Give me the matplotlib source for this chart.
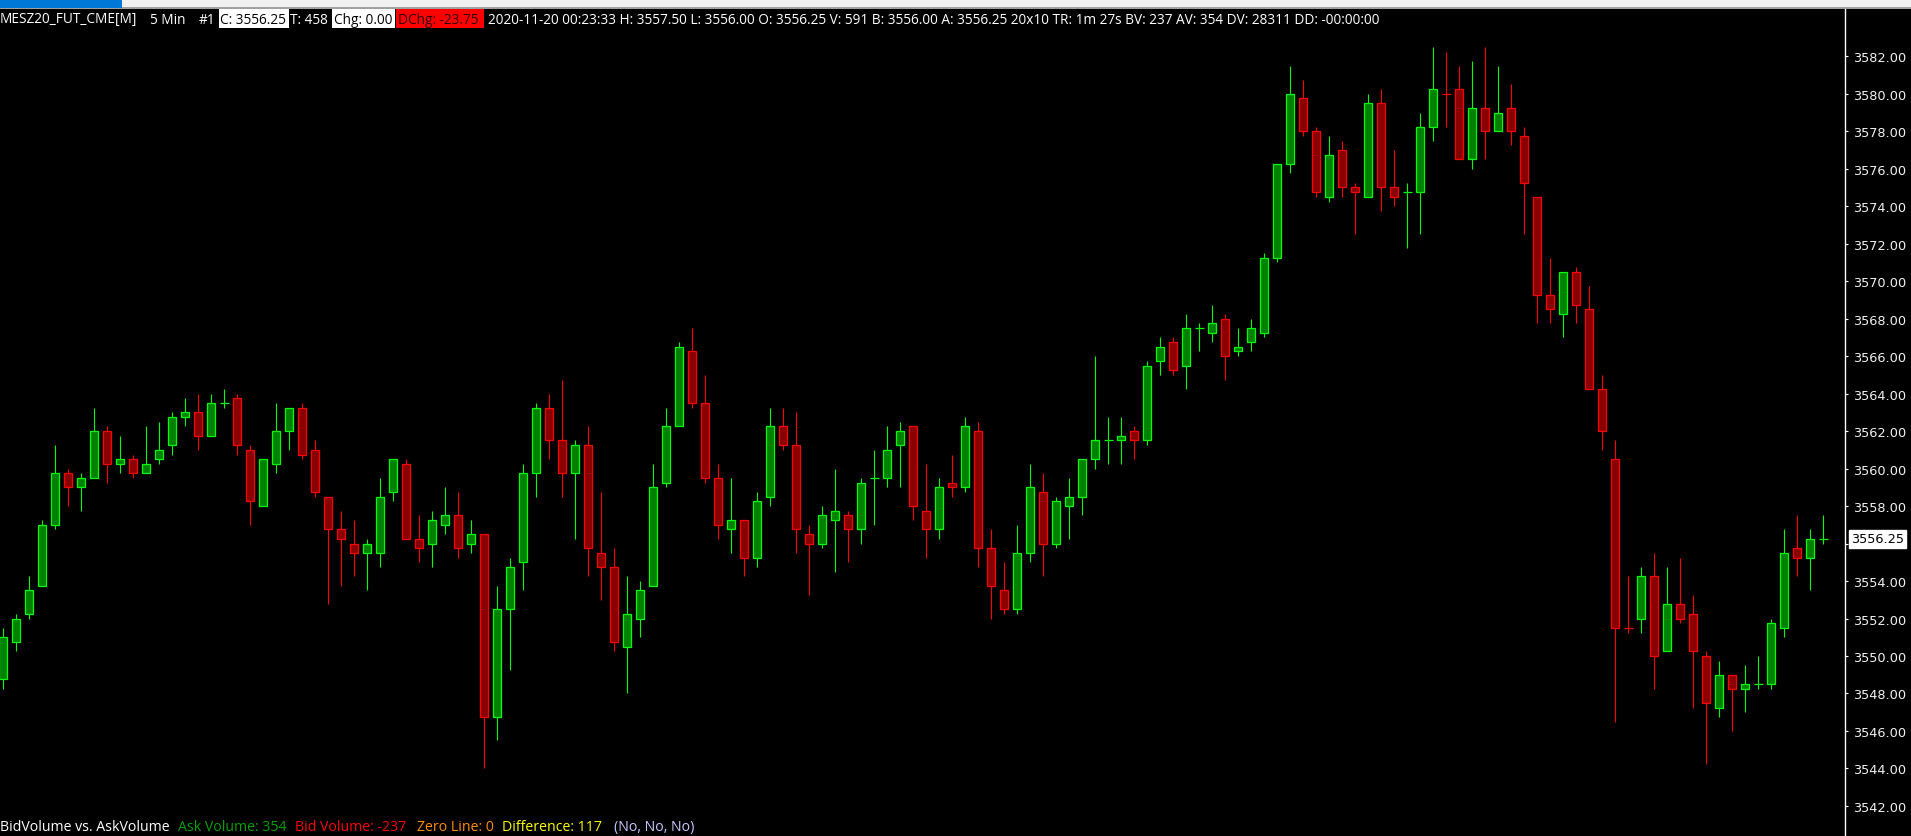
import numpy as np
import matplotlib
matplotlib.use("Agg")
import matplotlib.pyplot as plt
from matplotlib.patches import Rectangle
from matplotlib import transforms

# 5 min bars MESZ20 (open, high, low, close)
opens = [3548.75, 3550.75, 3552.25, 3553.75, 3557.0, 3559.75, 3559.0, 3559.5, 3562.0, 3560.25,
         3560.5, 3559.75, 3560.5, 3561.25, 3562.75, 3563.0, 3561.75, 3563.5, 3563.75, 3561.0,
         3558.0, 3560.25, 3562.0, 3563.25, 3561.0, 3558.5, 3556.75, 3556.0, 3555.5, 3555.5,
         3558.75, 3560.25, 3556.25, 3556.0, 3557.0, 3557.5, 3556.0, 3556.5, 3546.75, 3552.5,
         3555.0, 3559.75, 3563.25, 3561.5, 3559.75, 3561.25, 3555.5, 3554.75, 3550.5, 3552.0,
         3553.75, 3559.25, 3562.25, 3566.25, 3563.5, 3559.5, 3556.75, 3557.25, 3555.25, 3558.5,
         3562.25, 3561.25, 3556.5, 3556.0, 3557.25, 3557.5, 3556.75, 3559.5, 3559.5, 3561.25,
         3562.25, 3557.75, 3556.75, 3559.25, 3559.0, 3562.0, 3555.75, 3553.5, 3552.5, 3555.5,
         3558.75, 3556.0, 3558.0, 3558.5, 3560.5, 3561.5, 3561.5, 3562.0, 3561.5, 3565.75,
         3566.75, 3565.5, 3567.5, 3567.25, 3568.0, 3566.25, 3566.75, 3567.25, 3571.25, 3576.25,
         3579.75, 3578.0, 3574.5, 3577.0, 3575.0, 3574.5, 3579.5, 3575.0, 3574.75, 3574.75,
         3578.25, 3580.0, 3580.25, 3576.5, 3579.25, 3578.0, 3579.25, 3577.75, 3574.5, 3569.25,
         3568.25, 3570.5, 3568.5, 3564.25, 3560.5, 3551.5, 3552.0, 3554.25, 3550.25, 3552.75,
         3552.25, 3550.0, 3547.25, 3549.0, 3548.25, 3548.5, 3548.5, 3551.5, 3555.75, 3555.25,
         3556.25]
highs = [3551.5, 3552.25, 3554.25, 3557.25, 3561.25, 3560.0, 3559.75, 3563.25, 3562.25, 3561.75,
         3560.75, 3562.25, 3562.5, 3563.0, 3563.75, 3564.0, 3564.0, 3564.25, 3564.0, 3561.25,
         3560.5, 3563.5, 3563.25, 3563.5, 3561.5, 3558.5, 3557.75, 3557.25, 3556.25, 3559.5,
         3560.5, 3560.5, 3557.5, 3557.75, 3559.0, 3558.75, 3557.25, 3556.5, 3553.75, 3555.25,
         3560.25, 3563.5, 3564.0, 3564.75, 3561.5, 3562.25, 3558.75, 3555.75, 3554.25, 3554.0,
         3560.25, 3563.25, 3566.75, 3567.5, 3565.0, 3560.25, 3559.5, 3557.25, 3558.75, 3563.25,
         3563.25, 3563.0, 3557.0, 3558.0, 3560.0, 3557.75, 3559.5, 3561.0, 3562.25, 3562.5,
         3562.25, 3560.25, 3559.5, 3560.75, 3562.75, 3562.5, 3556.75, 3555.0, 3557.0, 3560.25,
         3559.75, 3558.5, 3559.5, 3560.5, 3566.0, 3562.75, 3562.75, 3562.25, 3565.75, 3567.0,
         3567.0, 3568.25, 3567.75, 3568.75, 3568.25, 3567.5, 3568.0, 3571.5, 3576.25, 3581.5,
         3580.75, 3578.25, 3577.75, 3577.5, 3575.25, 3580.0, 3580.25, 3577.0, 3575.25, 3579.0,
         3582.5, 3582.25, 3581.5, 3581.75, 3582.5, 3581.5, 3580.5, 3578.25, 3574.5, 3571.25,
         3570.5, 3570.75, 3569.75, 3565.0, 3561.5, 3554.25, 3554.75, 3555.5, 3554.75, 3555.25,
         3553.25, 3550.25, 3549.75, 3549.0, 3549.5, 3550.0, 3552.0, 3556.75, 3557.5, 3556.75,
         3557.5]
lows = [3548.25, 3550.25, 3552.0, 3553.75, 3556.75, 3558.0, 3557.75, 3559.5, 3559.25, 3559.75,
        3559.5, 3559.75, 3560.25, 3560.75, 3562.25, 3561.0, 3561.75, 3563.25, 3560.75, 3557.0,
        3558.0, 3559.75, 3561.0, 3560.5, 3558.5, 3552.75, 3553.75, 3554.25, 3553.5, 3554.75,
        3558.25, 3556.25, 3555.0, 3554.75, 3556.5, 3555.25, 3555.5, 3544.0, 3545.5, 3549.25,
        3553.5, 3558.5, 3560.5, 3558.5, 3556.25, 3554.25, 3553.0, 3550.25, 3548.0, 3551.0,
        3553.75, 3559.0, 3562.25, 3563.25, 3559.25, 3556.25, 3555.5, 3554.25, 3554.75, 3558.0,
        3561.0, 3555.5, 3553.25, 3555.75, 3554.5, 3555.0, 3556.0, 3557.0, 3559.0, 3559.0,
        3557.25, 3555.25, 3556.25, 3558.5, 3558.75, 3554.75, 3552.0, 3552.25, 3552.25, 3555.0,
        3554.25, 3555.75, 3556.25, 3557.5, 3560.0, 3560.25, 3560.25, 3560.5, 3561.25, 3565.0,
        3565.0, 3564.25, 3566.25, 3566.75, 3564.75, 3566.0, 3566.25, 3567.0, 3571.0, 3575.75,
        3577.75, 3574.5, 3574.25, 3574.5, 3572.5, 3574.5, 3573.75, 3574.0, 3571.75, 3572.5,
        3577.5, 3578.25, 3576.5, 3576.0, 3576.5, 3578.0, 3577.25, 3572.5, 3567.75, 3567.75,
        3567.0, 3567.75, 3564.25, 3561.0, 3546.5, 3551.25, 3551.25, 3548.25, 3550.25, 3551.75,
        3547.25, 3544.25, 3546.75, 3546.0, 3547.0, 3548.25, 3548.25, 3551.0, 3554.25, 3553.5,
        3556.0]
closes = [3551.0, 3552.0, 3553.5, 3557.0, 3559.75, 3559.0, 3559.5, 3562.0, 3560.25, 3560.5,
          3559.75, 3560.25, 3561.0, 3562.75, 3563.0, 3561.75, 3563.5, 3563.5, 3561.25, 3558.25,
          3560.5, 3562.0, 3563.25, 3560.75, 3558.75, 3556.75, 3556.25, 3555.5, 3556.0, 3558.5,
          3560.5, 3556.25, 3555.75, 3557.25, 3557.5, 3555.75, 3556.5, 3546.75, 3552.5, 3554.75,
          3559.75, 3563.25, 3561.5, 3559.75, 3561.25, 3555.75, 3554.75, 3550.75, 3552.25, 3553.5,
          3559.0, 3562.25, 3566.5, 3563.5, 3559.5, 3557.0, 3557.25, 3555.25, 3558.25, 3562.25,
          3561.25, 3556.75, 3556.0, 3557.5, 3557.75, 3556.75, 3559.25, 3559.5, 3561.0, 3562.0,
          3558.0, 3556.75, 3559.0, 3559.0, 3562.25, 3555.75, 3553.75, 3552.5, 3555.5, 3559.0,
          3556.0, 3558.25, 3558.5, 3560.5, 3561.5, 3561.5, 3561.75, 3561.5, 3565.5, 3566.5,
          3565.25, 3567.5, 3567.5, 3567.75, 3566.0, 3566.5, 3567.5, 3571.25, 3576.25, 3580.0,
          3578.0, 3574.75, 3576.75, 3575.0, 3574.75, 3579.5, 3575.0, 3574.5, 3574.75, 3578.25,
          3580.25, 3580.0, 3576.5, 3579.25, 3578.0, 3579.0, 3578.0, 3575.25, 3569.25, 3568.5,
          3570.5, 3568.75, 3564.25, 3562.0, 3551.5, 3551.5, 3554.25, 3550.0, 3552.75, 3552.0,
          3550.25, 3547.5, 3549.0, 3548.25, 3548.5, 3548.5, 3551.75, 3555.5, 3555.25, 3556.25,
          3556.25]
doji_red = [111, 125]   # flat bars drawn red
last_price = 3556.25
price_ticks = list(range(3542, 3584, 2))

header_texts = ["MESZ20_FUT_CME[M]", "5 Min", "#1", "C: 3556.25", "T: 458", "Chg: 0.00",
                "DChg: -23.75",
                "2020-11-20 00:23:33 H: 3557.50 L: 3556.00 O: 3556.25 V: 591 B: 3556.00 "
                "A: 3556.25 20x10 TR: 1m 27s BV: 237 AV: 354 DV: 28311 DD: -00:00:00"]
study_texts = ["BidVolume vs. AskVolume", "Ask Volume: 354", "Bid Volume: -237",
               "Zero Line: 0", "Difference: 117", "(No, No, No)"]

W, H = 1911, 837
fig = plt.figure(figsize=(W / 100, H / 100), dpi=100, facecolor='black')

ax = fig.add_axes([0, 0, 1845 / W, (H - 9) / H])
ax.set_facecolor('black')
n = len(opens)
idx = np.arange(n)
o = np.array(opens); c = np.array(closes)
hi = np.array(highs); lo = np.array(lows)

up = c >= o
up[doji_red] = False
flat = o == c
edge = np.where(up, '#00ff00', '#ff0000')
fill = np.where(up, '#008000', '#880000')

ax.vlines(idx, lo, hi, colors=edge, linewidth=0.8, zorder=1)
body = ~flat
ax.bar(idx[body], np.abs(c - o)[body], bottom=np.minimum(o, c)[body], width=0.6,
       color=fill[body], edgecolor=edge[body], linewidth=0.9, zorder=2)
ax.hlines(c[flat], idx[flat] - 0.34, idx[flat] + 0.34, colors=edge[flat], linewidth=0.9, zorder=2)

ax.set_xlim(-0.254, 141.67)
ax.set_ylim(3540.394, 3584.577)
for s in ['top', 'bottom', 'left']:
    ax.spines[s].set_visible(False)
ax.spines['right'].set_color('white')
ax.spines['right'].set_linewidth(1.0)
ax.set_xticks([])
ax.yaxis.set_ticks_position('right')
ax.set_yticks(price_ticks)
ax.set_yticklabels(['' if t == 3556 else f'{t:.2f}' for t in price_ticks])
ax.tick_params(axis='y', direction='out', length=2.5, width=0.8, color='white',
               labelcolor='#f2f2f2', labelsize=9.3, pad=3)

# last price marker on the scale
tr = transforms.blended_transform_factory(fig.transFigure, ax.transData)
fig.text(1851 / W, last_price, f'{last_price:.2f}', transform=tr, ha='left', va='center',
         fontsize=9.3, color='black',
         bbox=dict(boxstyle='square,pad=0.18', facecolor='white', edgecolor='white'))

# top window strip
fig.patches.append(Rectangle((0, 1 - 8.5 / H), 1, 8.5 / H, transform=fig.transFigure,
                             facecolor='#f0f0f0', edgecolor='none'))
fig.patches.append(Rectangle((0, 1 - 9.5 / H), 1, 1.2 / H, transform=fig.transFigure,
                             facecolor='#a0a0a0', edgecolor='none'))
fig.patches.append(Rectangle((0, 1 - 8.5 / H), 122 / W, 8.5 / H, transform=fig.transFigure,
                             facecolor='#0078d7', edgecolor='none'))

renderer = fig.canvas.get_renderer()


def fit_size(strings, widths, family):
    total = 0
    for s in strings:
        t = fig.text(0, 0, s, fontsize=10, family=family)
        total += t.get_window_extent(renderer).width
        t.remove()
    return 10 * sum(widths) / total


fam = ['Open Sans', 'DejaVu Sans']
# header line
hx = [0, 150, 199, 220, 290, 334, 398, 488]
hw = [141, 37, 16, 65, 41, 59, 84, 922]
hcol = ['white', 'white', 'white', 'black', 'white', 'black', '#300000', 'white']
boxes = [(219, 289, 'white'), (332, 395, 'white'), (396, 484, '#ff0000')]
for x0, x1, col in boxes:
    fig.patches.append(Rectangle((x0 / W, 1 - 29 / H), (x1 - x0) / W, 19 / H,
                                 transform=fig.transFigure, facecolor=col, edgecolor='none'))
fs = fit_size(header_texts, hw, fam) * 0.97
for s, x, col in zip(header_texts, hx, hcol):
    fig.text(x / W, 1 - 20 / H, s, fontsize=fs, family=fam, color=col, ha='left', va='center')

# study line at the bottom
sx = [0, 178, 295, 417, 502, 614]
sw = [168, 108, 113, 75, 99, 82]
scol = ['white', '#00a000', '#ff0000', '#ff8c00', '#ffff00', '#c8c8ff']
fs2 = fit_size(study_texts, sw, fam)
for s, x, col in zip(study_texts, sx, scol):
    fig.text(x / W, 1 - 828 / H, s, fontsize=fs2, family=fam, color=col, ha='left', va='center')

fig.savefig('out.png', dpi=100, facecolor='black')
